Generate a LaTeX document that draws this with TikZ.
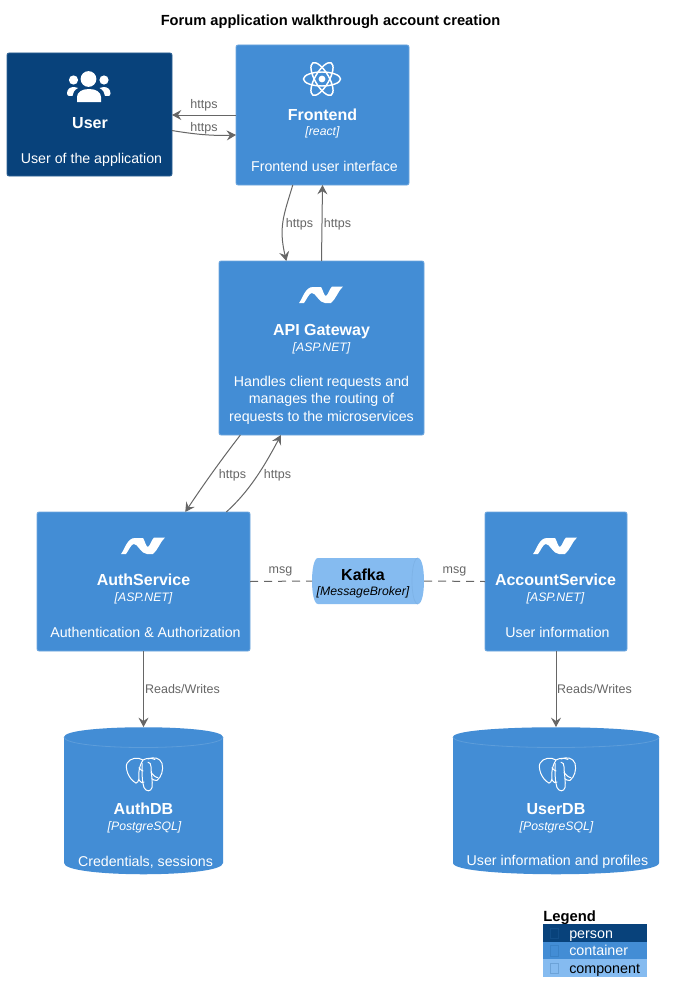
\documentclass[tikz,border=0pt]{standalone}
\usepackage{fontspec}
\setmainfont{Liberation Sans}
\usetikzlibrary{arrows.meta,calc}
\definecolor{person}{HTML}{08427B}
\definecolor{personb}{HTML}{2E6295}
\definecolor{cont}{HTML}{438DD5}
\definecolor{contb}{HTML}{6FA7DE}
\definecolor{comp}{HTML}{85BBF0}
\definecolor{compb}{HTML}{7DB2E6}
\definecolor{rel}{HTML}{666666}
\newcommand{\fpx}[1]{\fontsize{\the\dimexpr #1pt*3/4\relax}{\the\dimexpr 14pt*15/16\relax}\selectfont}
\newcommand{\iconnet}[2]{\fill[white,shift={(#1,#2)}] (9,25) .. controls (13,20) and (15,9) .. (23,9) -- (31,9) .. controls (33,12) and (34,18) .. (36,18) .. controls (38.5,16) and (39.5,11) .. (42,8.5) -- (53,8.5) .. controls (48,13) and (46,21) .. (41,25) -- (35,25) .. controls (29,25) and (26,15) .. (22,15) .. controls (19,15) and (17,21) .. (14,25) -- cycle;}
\newcommand{\iconpg}[2]{\begin{scope}[shift={(#1,#2)},yscale=1.1,draw=white,line width=0.75pt,line cap=round,line join=round]
\draw (18,31) .. controls (10,27) and (7,17) .. (9,13) .. controls (12,8) and (20,7) .. (25,10) .. controls (22,14) and (20,20) .. (21,27) .. controls (21,29) and (19,31) .. (18,31);
\draw (25,10) .. controls (29,8) and (33,8) .. (37,9.5);
\draw (30,9) .. controls (36,7) and (42,8) .. (44,13) .. controls (46,19) and (43,26) .. (39,28.5) .. controls (37,29) and (35,28) .. (34,27);
\draw (24,13) .. controls (24,22) and (24,30) .. (26,35) .. controls (28,39) and (33,39) .. (34,35) .. controls (35,30) and (33,22) .. (33,16) .. controls (33,14) and (32,12) .. (30,12);
\draw (21,28) .. controls (23,31) and (25,31) .. (26,30);
\draw (33,21) .. controls (35,24) and (38,26) .. (40,26);
\draw (21,17) .. controls (23,19) and (24,20) .. (25,20);
\end{scope}}
\newcommand{\dbbody}[2]{\fill[cont] (#1,737) .. controls (#1,724) and (#2,724) .. (#2,737) -- (#2,863) .. controls (#2,878) and (#1,878) .. (#1,863) -- cycle;
\draw[contb!60!cont,line width=0.6pt] (#1,737) .. controls (#1,751) and (#2,751) .. (#2,737);}
\tikzset{
  x=0.75pt,y=-0.75pt,
  box/.style={draw,line width=0.6pt,rounded corners=1.5pt,outer sep=0pt,inner sep=0pt,anchor=north west},
  pbox/.style={box,fill=person,draw=personb},
  cbox/.style={box,fill=cont,draw=contb},
  ttl/.style={text=white,font=\bfseries\fpx{16},inner sep=0pt},
  tech/.style={text=white,font=\itshape\fpx{12.25},inner sep=0pt},
  desc/.style={text=white,font=\fpx{14.2},inner sep=0pt},
  rlabel/.style={text=rel,font=\fpx{12.5},inner sep=0pt},
  rel/.style={draw=rel,line width=0.75pt,-{Stealth[length=7pt,width=7.5pt,inset=2.5pt]}},
  dep/.style={draw=rel,line width=0.75pt,dash pattern=on 6pt off 4.5pt},
  hid/.style={inner sep=0pt,outer sep=0pt,anchor=north west},
  legrow/.style={inner sep=0pt,outer sep=0pt,anchor=north west,minimum width=78pt,minimum height=13.2pt}
}
\begin{document}
\begin{tikzpicture}
\useasboundingbox (0,0) rectangle (674,999);
\fill[white] (0,0) rectangle (674,999);
\node[font=\bfseries\fpx{14.65},inner sep=0pt] (title) at (330.5,22) {Forum application walkthrough account creation};

% boxes
\node[pbox,minimum width=123.75pt,minimum height=92.25pt] (user) at (7,53) {};
\node[cbox,minimum width=129.75pt,minimum height=105pt] (fe) at (236,45) {};
\node[cbox,minimum width=153.75pt,minimum height=130.5pt] (api) at (219,261) {};
\node[cbox,minimum width=159.75pt,minimum height=104.25pt] (auth) at (37,512) {};
\node[cbox,minimum width=106.5pt,minimum height=104.25pt] (acct) at (485,512) {};

% cylinders
\dbbody{64}{223}
\dbbody{453}{659}
\node[hid,minimum width=119.25pt,minimum height=110.25pt] (adb) at (64,727) {};
\node[hid,minimum width=154.5pt,minimum height=110.25pt] (udb) at (453,727) {};

% kafka
\path[fill=comp] (318,558) -- (418,558) .. controls (426,558) and (426,604) .. (418,604) -- (318,604) .. controls (310,604) and (310,558) .. (318,558) -- cycle;
\draw[compb,line width=0.5pt] (418,558) .. controls (410,558) and (410,604) .. (418,604);
\node[hid,minimum width=84pt,minimum height=34.5pt] (kafka) at (312,558) {};

% icons
\fill[white] (88.5,79) circle (7.9);
\fill[white] (73.5,80) circle (4.6);
\fill[white] (104,80) circle (4.6);
\fill[white] (77,102) -- (77,97) .. controls (77,92) and (82,89) .. (89,89) .. controls (96,89) and (101,92) .. (101,97) -- (101,102) -- cycle;
\fill[white] (67,93.5) .. controls (67,89) and (70,87) .. (74,87) -- (78,88) .. controls (74,90) and (73,93) .. (72.5,96) -- (69,96) .. controls (68,96) and (67,95) .. (67,93.5) -- cycle;
\fill[white] (110.5,93.5) .. controls (110.5,89) and (107.5,87) .. (103.5,87) -- (99.5,88) .. controls (103.5,90) and (104.5,93) .. (105,96) -- (108.5,96) .. controls (109.5,96) and (110.5,95) .. (110.5,93.5) -- cycle;
\begin{scope}[white,line width=1.1pt]
\draw (322,79) ellipse [x radius=18.5,y radius=7];
\draw[rotate around={60:(322,79)}] (322,79) ellipse [x radius=18.5,y radius=7];
\draw[rotate around={-60:(322,79)}] (322,79) ellipse [x radius=18.5,y radius=7];
\fill (322,79) circle (3.4);
\end{scope}
\iconnet{290}{278}
\iconnet{112}{529}
\iconnet{524}{529}
\iconpg{118}{749}
\iconpg{531}{749}

% texts
\begin{scope}[yshift=-0.75pt]
\node[ttl,text=white] (t1) at (90,122) {User};
\node[desc] (d1) at (91.5,159) {User of the application};
\node[ttl] (t2) at (322.5,114) {Frontend};
\node[tech] (k2) at (322.5,131) {[react]};
\node[desc] (d2) at (324.5,165) {Frontend user interface};
\node[ttl] (t3) at (321.5,331) {API Gateway};
\node[tech] (k3) at (321.5,347) {[ASP.NET]};
\node[desc,align=center] (d3) at (321.5,399) {Handles client requests and\\manages the routing of\\requests to the microservices};
\node[ttl] (t4) at (143.5,579) {AuthService};
\node[tech] (k4) at (143.5,597) {[ASP.NET]};
\node[desc] (d4) at (145.5,631) {Authentication \& Authorization};
\node[ttl] (t5) at (555.5,579) {AccountService};
\node[tech] (k5) at (555.5,597) {[ASP.NET]};
\node[desc] (d5) at (557.5,631) {User information};
\node[ttl] (t6) at (143.5,808) {AuthDB};
\node[tech] (k6) at (144.5,826) {[PostgreSQL]};
\node[desc] (d6) at (145.5,861) {Credentials, sessions};
\node[ttl] (t7) at (556,808) {UserDB};
\node[tech] (k7) at (556.5,826) {[PostgreSQL]};
\node[desc] (d7) at (557.5,861) {User information and profiles};
\node[ttl,text=black] (t8) at (363,574) {Kafka};
\node[tech,text=black] (k8) at (363,591.5) {[MessageBroker]};
\node[rlabel] (l1) at (204,104) {https};
\node[rlabel] (l2) at (204,127) {https};
\node[rlabel] (l3) at (299.5,223) {https};
\node[rlabel] (l4) at (337.5,223) {https};
\node[rlabel] (l5) at (232.5,474) {https};
\node[rlabel] (l6) at (277.5,474) {https};
\node[rlabel] (l7) at (280.5,570) {msg};
\node[rlabel] (l8) at (454.5,570) {msg};
\node[rlabel] (l9) at (182.5,688) {Reads/Writes};
\node[rlabel] (l10) at (594.5,688) {Reads/Writes};
\end{scope}

% connectors
\draw[rel] (fe.west) -- (fe.west -| user.east);
\draw[rel] (user.-11.6) .. controls +(24,4) and +(-22,1) .. (fe.193);
\draw[rel] (fe.247.15) .. controls +(-9,30) and +(-8,-34) .. (api.112.8);
\draw[rel] (api.north) -- (fe.south);
\draw[rel] (api.227.2) .. controls +(-20,26) and +(20,-30) .. (auth.59.8);
\draw[rel] (auth.40.8) .. controls +(22,-20) and +(-18,34) .. (api.245);
\draw[dep] (auth.east) -- (kafka.west);
\draw[dep] (kafka.east) -- (acct.west);
\draw[rel] (auth.south) -- (adb.north);
\draw[rel] (acct.south) -- (udb.north);

% legend
\node[font=\bfseries\fpx{14.8},inner sep=0pt,anchor=base west] (lt) at (543,921) {Legend};
\node[legrow,fill=person] (r1) at (543,924) {};
\node[legrow,fill=cont] (r2) at (543,941.5) {};
\node[legrow,fill=comp] (r3) at (543,959) {};
\draw[person!85!cont,line width=0.5pt] (550,928) rectangle (558,938);
\draw[cont!85!person,line width=0.5pt] (550,945) rectangle (558,956);
\draw[comp!80!person,line width=0.5pt] (550,963) rectangle (558,973);
\node[font=\fpx{14.3},text=white,inner sep=0pt,anchor=base west] (n1) at (569,938) {person};
\node[font=\fpx{14.3},text=white,inner sep=0pt,anchor=base west] (n2) at (569,955.5) {container};
\node[font=\fpx{14.3},text=black,inner sep=0pt,anchor=base west] (n3) at (569,973) {component};
\end{tikzpicture}
\end{document}
